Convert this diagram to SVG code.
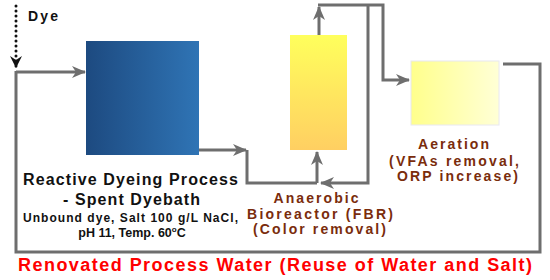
<svg xmlns="http://www.w3.org/2000/svg" width="550" height="280" viewBox="0 0 550 280">
<style>
.ln{fill:none;stroke:#6e6e6e;stroke-width:3;stroke-linejoin:miter}
.t{font-family:"Liberation Sans",Arial,sans-serif;font-weight:bold;text-anchor:middle}
.blk{fill:#111}
.brn{fill:#7a2c0c;font-size:14px}
</style>
<defs>
<linearGradient id="gBlue" x1="0" y1="0" x2="1" y2="0">
<stop offset="0" stop-color="#1d4a80"/><stop offset="1" stop-color="#2f74b5"/>
</linearGradient>
<linearGradient id="gAn" x1="0" y1="0" x2="0" y2="1">
<stop offset="0" stop-color="#ffff5c"/><stop offset="1" stop-color="#ffcf62"/>
</linearGradient>
<linearGradient id="gAer" x1="0" y1="0" x2="1" y2="0">
<stop offset="0" stop-color="#ffff8c"/><stop offset="1" stop-color="#ffffd6"/>
</linearGradient>
<marker id="ag" markerUnits="userSpaceOnUse" markerWidth="14" markerHeight="12" viewBox="0 0 14 12" refX="13" refY="6" orient="auto">
<path d="M0,0 L14,6 L0,12 L4,6 z" fill="#6e6e6e"/>
</marker>
<marker id="ab" markerUnits="userSpaceOnUse" markerWidth="12" markerHeight="12" viewBox="0 0 12 12" refX="11" refY="6" orient="auto">
<path d="M0,0 L12,6 L0,12 L4,6 z" fill="#111"/>
</marker>
</defs>

<g id="connectors">
<line x1="16" y1="6" x2="16" y2="67" stroke="#111" stroke-width="3" stroke-linecap="round" stroke-dasharray="0 5" marker-end="url(#ab)"/>
<path class="ln" d="M16,72 H85" marker-end="url(#ag)"/>
<path class="ln" d="M503,64 H540 V252 H16 V71"/>
<path class="ln" d="M199,150 H246" marker-end="url(#ag)"/>
<path class="ln" d="M247,150 V183 H317"/>
<path class="ln" d="M317,183 V152" marker-end="url(#ag)"/>
<path class="ln" d="M368,5 V183 H321" marker-end="url(#ag)"/>
<path class="ln" d="M319,35 V7" marker-end="url(#ag)"/>
<path class="ln" d="M318,5 H383 V80 H409" marker-end="url(#ag)"/>
</g>

<g id="dye">
<text class="t blk" x="28" y="21" font-size="14" style="text-anchor:start" textLength="30" lengthAdjust="spacing">Dye</text>
</g>

<g id="dyeing-process">
<rect x="86" y="41" width="113" height="114" fill="url(#gBlue)"/>
<text class="t blk" x="130.5" y="185" font-size="16" textLength="215" lengthAdjust="spacing">Reactive Dyeing Process</text>
<text class="t blk" x="131.5" y="205" font-size="16" textLength="137" lengthAdjust="spacing">- Spent Dyebath</text>
<text class="t blk" x="130.5" y="222" font-size="12" textLength="215" lengthAdjust="spacing">Unbound dye, Salt 100 g/L NaCl,</text>
<text class="t blk" x="132" y="237" font-size="12.5">pH 11, Temp. 60<tspan font-size="8" dy="-5">o</tspan><tspan dy="5">C</tspan></text>
</g>

<g id="anaerobic-bioreactor">
<rect x="290" y="35" width="57" height="115" fill="url(#gAn)"/>
<text class="t brn" x="316" y="203" textLength="85" lengthAdjust="spacing">Anaerobic</text>
<text class="t brn" x="320" y="219" textLength="146" lengthAdjust="spacing">Bioreactor (FBR)</text>
<text class="t brn" x="319.5" y="234" textLength="133" lengthAdjust="spacing">(Color removal)</text>
</g>

<g id="aeration">
<rect x="411" y="61" width="88" height="64" fill="url(#gAer)" stroke="#e8e8f0" stroke-width="1"/>
<text class="t brn" x="453.5" y="149" textLength="71" lengthAdjust="spacing">Aeration</text>
<text class="t brn" x="454" y="166" textLength="130" lengthAdjust="spacing">(VFAs removal,</text>
<text class="t brn" x="457.5" y="181" textLength="121" lengthAdjust="spacing">ORP increase)</text>
</g>

<g id="renovated-water">
<text class="t" x="275" y="271" font-size="18" fill="#ff0000" textLength="514" lengthAdjust="spacing">Renovated Process Water (Reuse of Water and Salt)</text>
</g>
</svg>
